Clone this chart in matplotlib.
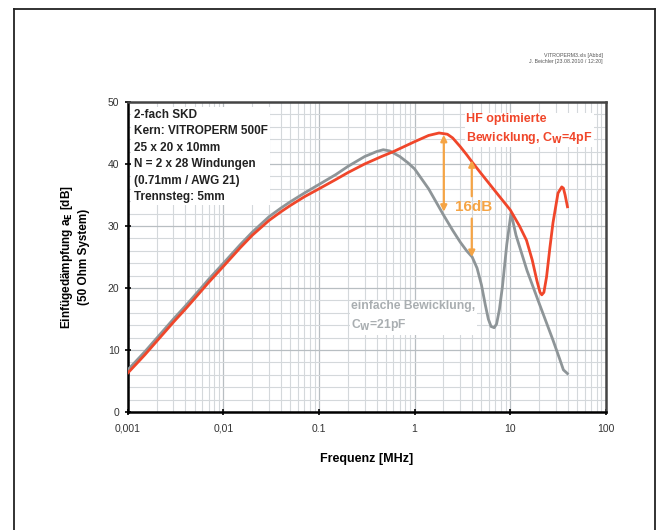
import numpy as np
import matplotlib as mpl
mpl.use('Agg')
import matplotlib.pyplot as plt
import matplotlib.ticker as ticker
from matplotlib.lines import Line2D

mpl.rc('font', family=['Liberation Sans', 'DejaVu Sans'], size=8)

# --- data (frequency in MHz, attenuation in dB) ---
f_hf = [0.001, 0.0012, 0.0015, 0.002, 0.0025, 0.003, 0.004, 0.005, 0.007, 0.01, 0.015, 0.02,
        0.03, 0.04, 0.05, 0.07, 0.1, 0.15, 0.2, 0.3, 0.45, 0.6, 0.8, 1.0, 1.4, 1.8, 2.2, 2.5,
        3.0, 3.5, 4.0, 5.0, 5.7, 7.5, 10, 12.5, 14.8, 17, 19, 20.5, 21.4, 22.5, 24, 26, 28,
        31.6, 34.6, 36, 37.5, 39.7]
a_hf = [6.3, 7.6, 9.2, 11.4, 13.1, 14.5, 16.6, 18.3, 20.9, 23.5, 26.5, 28.5,
        30.9, 32.3, 33.3, 34.7, 36.0, 37.5, 38.6, 40.0, 41.2, 42.0, 42.9, 43.6, 44.6, 45.0, 44.8, 44.2,
        42.8, 41.5, 40.3, 38.4, 37.3, 35.0, 32.6, 30.0, 27.7, 24.5, 21.2, 19.3, 18.9, 19.3, 21.8, 26.5, 30.5,
        35.3, 36.3, 36.1, 35.0, 33.1]

f_simple = [0.001, 0.0012, 0.0015, 0.002, 0.0025, 0.003, 0.004, 0.005, 0.007, 0.01, 0.015, 0.02,
            0.03, 0.04, 0.05, 0.07, 0.1, 0.15, 0.2, 0.3, 0.4, 0.47, 0.55, 0.7, 0.85, 1.0, 1.4, 2.0,
            2.5, 3.0, 3.5, 4.0, 4.5, 5.0, 5.5, 5.9, 6.3, 6.8, 7.2, 7.7, 8.3, 9.2, 10.2, 11.5,
            15, 20, 28, 33, 36, 39.7]
a_simple = [6.8, 8.1, 9.7, 11.9, 13.6, 15.0, 17.1, 18.8, 21.4, 24.0, 27.0, 29.0,
            31.5, 32.9, 33.9, 35.3, 36.7, 38.3, 39.6, 41.2, 42.0, 42.3, 42.1, 41.2, 40.2, 39.2, 36.0, 31.8,
            29.3, 27.4, 26.0, 25.0, 23.2, 20.5, 17.2, 15.0, 13.8, 13.6, 14.2, 16.5, 20.3, 27.0, 32.1, 28.5,
            22.8, 17.6, 11.6, 8.5, 6.8, 6.2]

xticks = [0.001, 0.01, 0.1, 1, 10, 100]
xticklabels = ['0,001', '0,01', '0.1', '1', '10', '100']
yticks = [0, 10, 20, 30, 40, 50]

info_lines = ['2-fach SKD', 'Kern: VITROPERM 500F', '25 x 20 x 10mm',
              'N = 2 x 28 Windungen', '(0.71mm / AWG 21)', 'Trennsteg: 5mm']

red = '#f0462a'
grey = '#8e9598'
orange = '#f5a445'

fig = plt.figure(figsize=(6.59, 5.30), dpi=100)
ax = fig.add_axes([0.194, 0.2226, 0.7253, 0.585])

ax.plot(f_simple, a_simple, color=grey, lw=2.0, zorder=3, solid_joinstyle='round')
ax.plot(f_hf, a_hf, color=red, lw=2.0, zorder=4, solid_joinstyle='round')

ax.set_xscale('log')
ax.set_xlim(0.001, 100)
ax.set_ylim(0, 50)
ax.set_xticks(xticks)
ax.set_xticklabels(xticklabels)
ax.set_yticks(yticks)
ax.yaxis.set_minor_locator(ticker.MultipleLocator(2))
ax.xaxis.set_minor_locator(ticker.LogLocator(base=10, subs=np.arange(2, 10)))
ax.xaxis.set_minor_formatter(ticker.NullFormatter())
ax.grid(which='major', color='#b8bec2', lw=0.9)
ax.grid(which='minor', color='#d4d8db', lw=0.8)
ax.set_axisbelow(True)
ax.tick_params(which='major', direction='inout', length=5, width=1.2, colors='k',
               labelsize=7.5, labelcolor='#333333')
ax.tick_params(which='minor', length=0)
ax.tick_params(axis='x', pad=6)

for s in ['left', 'bottom']:
    ax.spines[s].set_linewidth(1.8)
    ax.spines[s].set_color('k')
for s in ['top', 'right']:
    ax.spines[s].set_linewidth(1.8)
    ax.spines[s].set_color('#444444')

ax.set_xlabel('Frequenz [MHz]', fontsize=9, fontweight='bold', labelpad=14)
ax.set_ylabel('Einfügedämpfung a$_\\mathbf{E}$ [dB]\n(50 Ohm System)', fontsize=8.5,
              fontweight='bold', labelpad=13, linespacing=1.3)

# info block
ax.text(0.012, 0.978, '\n'.join(info_lines), transform=ax.transAxes, ha='left', va='top',
        fontsize=8.5, fontweight='bold', color='#222222', linespacing=1.5,
        bbox=dict(facecolor='white', edgecolor='none', pad=1.5), zorder=5)

ax.text(0.708, 0.965, 'HF optimierte\nBewicklung, C$_\\mathbf{W}$=4pF', transform=ax.transAxes,
        ha='left', va='top', fontsize=9, fontweight='bold', color=red, linespacing=1.45,
        bbox=dict(facecolor='white', edgecolor='none', pad=1.0), zorder=5)

ax.text(0.467, 0.36, 'einfache Bewicklung,\nC$_\\mathbf{W}$=21pF', transform=ax.transAxes,
        ha='left', va='top', fontsize=8.7, fontweight='bold', color='#a9aeb1', linespacing=1.45,
        bbox=dict(facecolor='white', edgecolor='none', pad=1.0), zorder=2)

# 16 dB arrows
arrow_kw = dict(arrowstyle='<|-|>', color=orange, lw=1.6, mutation_scale=9, shrinkA=0, shrinkB=0)
ax.annotate('', xy=(2.02, 44.7), xytext=(2.02, 32.3), arrowprops=arrow_kw, zorder=6)
up_kw = dict(arrowstyle='-|>', color=orange, lw=1.6, mutation_scale=9, shrinkA=0, shrinkB=0)
ax.annotate('', xy=(3.96, 40.6), xytext=(3.96, 34.8), arrowprops=up_kw, zorder=6)
ax.annotate('', xy=(3.96, 25.0), xytext=(3.96, 31.2), arrowprops=up_kw, zorder=6)
ax.text(4.1, 33.0, '16dB', ha='center', va='center', fontsize=11, fontweight='bold',
        color=orange, zorder=6)

# header
fig.text(0.915, 0.889, 'VITROPERM3.xls [Abbd]\nJ. Beichler [23.08.2010 / 12:20]', ha='right',
         va='center', fontsize=3.8, color='#555555', linespacing=1.3)

# outer frame
x0, x1, ytop = 14 / 659, 655 / 659, 1 - 9 / 530
for xs, ys in [([x0, x0], [0, ytop]), ([x0, x1], [ytop, ytop]), ([x1, x1], [ytop, 0])]:
    fig.add_artist(Line2D(xs, ys, color='#222222', lw=1.3, transform=fig.transFigure))

fig.savefig('out.png', dpi=100)
